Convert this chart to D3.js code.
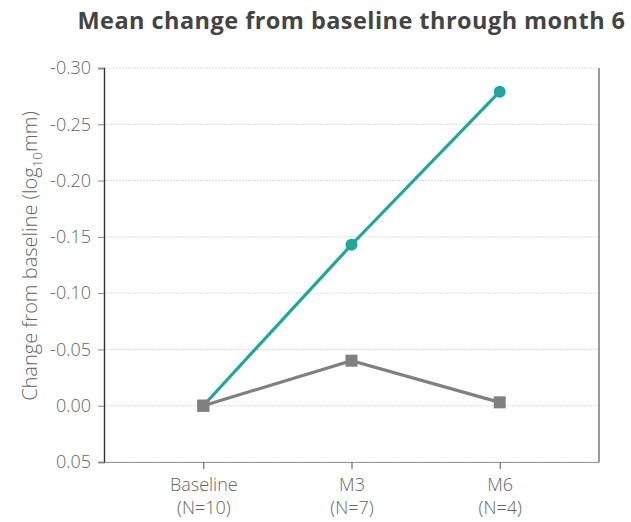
<!DOCTYPE html>
<html>
<head>
<meta charset="utf-8">
<script src="https://cdn.jsdelivr.net/npm/d3@7"></script>
<style>
  body { margin: 0; background: #fff; }
  text { font-family: "Open Sans", sans-serif; }
</style>
</head>
<body>
<div id="target"></div>
<script>
const categories = ["Baseline", "M3", "M6"];
const countLabels = ["(N=10)", "(N=7)", "(N=4)"];
const tealValues = [0, -0.143, -0.279];
const grayValues = [0, -0.040, -0.003];
const yTicks = [-0.30, -0.25, -0.20, -0.15, -0.10, -0.05, 0.00, 0.05];

function chart() {
  const width = 631,
    height = 522,
    left = 104,
    right = 599,
    top = 68,
    bottom = 462;

  let svg = d3.select("#target").append("svg")
    .attr("width", width)
    .attr("height", height);

  let x = d3.scalePoint()
    .domain(categories)
    .range([left, right])
    .padding(0.67);
  let y = d3.scaleLinear()
    .domain([0.05, -0.30])
    .range([bottom, top]);

  // title
  svg.append("text")
    .attr("x", (left + right) / 2)
    .attr("y", 28.5)
    .attr("text-anchor", "middle")
    .style("font-size", "23.5px")
    .style("font-weight", "bold")
    .style("letter-spacing", "0.45px")
    .style("fill", "#444")
    .text("Mean change from baseline through month 6");

  // grid
  svg.append("g")
    .selectAll("line")
    .data(yTicks)
    .enter().append("line")
    .attr("x1", left)
    .attr("x2", right)
    .attr("y1", (d) => y(d))
    .attr("y2", (d) => y(d))
    .attr("stroke", "#dcdcdc")
    .attr("stroke-dasharray", "2,1");

  // right border
  svg.append("line")
    .attr("x1", right).attr("x2", right)
    .attr("y1", top).attr("y2", bottom)
    .attr("stroke", "#555")
    .attr("stroke-width", 1.2);

  // y axis
  let yAxis = svg.append("g")
    .attr("transform", `translate(${left},0)`)
    .call(d3.axisLeft(y).tickValues(yTicks).tickSize(6).tickFormat(d3.format(".2f")));
  yAxis.select(".domain").attr("stroke", "#333").attr("stroke-width", 1.4);
  yAxis.selectAll(".tick line").attr("stroke", "#888");
  yAxis.selectAll(".tick text")
    .style("font-size", "18px")
    .style("font-weight", "300")
    .style("fill", "#666")
    .attr("x", -13)
    .text((d) => d === 0 ? "0.00" : d3.format(".2f")(d).replace("−", "-"));

  // x axis
  let xAxis = svg.append("g")
    .attr("transform", `translate(0,${bottom})`)
    .call(d3.axisBottom(x).tickSize(7).tickSizeOuter(0));
  xAxis.select(".domain").attr("stroke", "#999").attr("stroke-width", 1.2);
  xAxis.selectAll(".tick line").attr("stroke", "#555");
  xAxis.selectAll(".tick text").remove();
  let xl = xAxis.selectAll(".tick").append("text")
    .attr("text-anchor", "middle")
    .style("font-size", "18px")
    .style("font-weight", "300")
    .style("fill", "#666");
  xl.append("tspan").attr("x", 0).attr("y", 29).text((d) => d);
  xl.append("tspan").attr("x", 0).attr("y", 52).text((d, i) => countLabels[i]);

  // y label
  let yl = svg.append("text")
    .attr("transform", `translate(37,256) rotate(-90)`)
    .attr("text-anchor", "middle")
    .style("font-size", "20px")
    .style("font-weight", "300")
    .style("fill", "#666");
  yl.append("tspan").text("Change from baseline (log");
  yl.append("tspan").attr("dy", 5).style("font-size", "13.5px").text("10");
  yl.append("tspan").attr("dy", -5).text("mm)");

  let line = d3.line()
    .x((d, i) => x(categories[i]))
    .y((d) => y(d));

  // gray series
  svg.append("path")
    .datum(grayValues)
    .attr("d", line)
    .attr("fill", "none")
    .attr("stroke", "#808080")
    .attr("stroke-width", 3.2);
  svg.selectAll("rect.gray")
    .data(grayValues)
    .enter().append("rect")
    .attr("class", "gray")
    .attr("x", (d, i) => x(categories[i]) - 6)
    .attr("y", (d) => y(d) - 6)
    .attr("width", 12)
    .attr("height", 12)
    .attr("fill", "#808080");

  // teal series
  svg.append("path")
    .datum(tealValues)
    .attr("d", line)
    .attr("fill", "none")
    .attr("stroke", "#1ea89b")
    .attr("stroke-width", 3.2);
  svg.selectAll("circle.teal")
    .data(tealValues.slice(1))
    .enter().append("circle")
    .attr("class", "teal")
    .attr("cx", (d, i) => x(categories[i + 1]))
    .attr("cy", (d) => y(d))
    .attr("r", 6)
    .attr("fill", "#1ea89b");

  // redraw baseline square on top
  svg.append("rect")
    .datum(grayValues[0])
    .attr("x", x(categories[0]) - 6)
    .attr("y", (d) => y(d) - 6)
    .attr("width", 12)
    .attr("height", 12)
    .attr("fill", "#808080");
}
chart();
</script>
</body>
</html>
